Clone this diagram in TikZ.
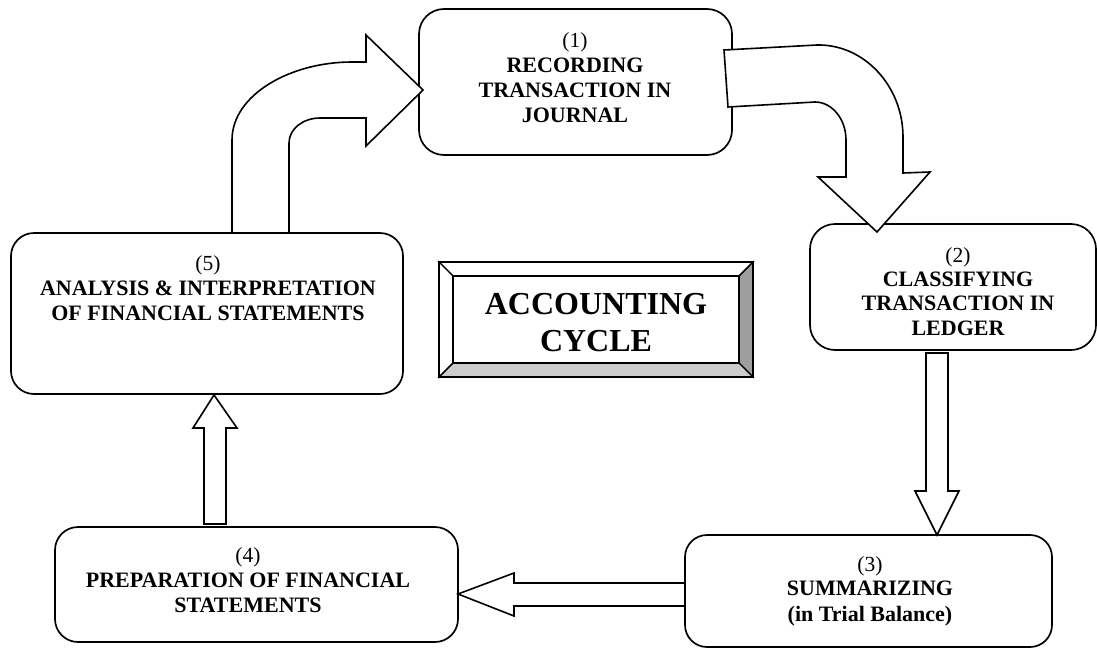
\documentclass[tikz,border=0pt]{standalone}
\usepackage{fontspec}
\setmainfont{Liberation Serif}
\begin{document}
\begin{tikzpicture}[x=1pt,y=-1pt,
  rbox/.style={draw, line width=1.7pt, inner sep=0pt, outer sep=0pt},
  blockarrow/.style={draw, fill=white, line width=1.6pt, line join=miter},
  num/.style={font=\fontsize{21.5}{24}\selectfont, anchor=base, inner sep=0pt},
  lbl/.style={font=\fontsize{22}{24}\selectfont\bfseries, anchor=base, inner sep=0pt},
  big/.style={font=\fontsize{32}{37}\selectfont\bfseries, anchor=base, inner sep=0pt},
  facet/.style={draw, line width=1.4pt, line join=miter}]
\useasboundingbox (0,0) rectangle (1097,648);
\fill[white] (0,0) rectangle (1097,648);

% boxes
\node[rbox, rounded corners=25pt, minimum width=313pt, minimum height=146pt] (b1) at (575.5,82) {};
\node[rbox, rounded corners=25pt, minimum width=286pt, minimum height=126pt] (b2) at (953,287) {};
\node[rbox, rounded corners=22pt, minimum width=367pt, minimum height=112pt] (b3) at (868.5,591) {};
\node[rbox, rounded corners=23pt, minimum width=403pt, minimum height=115pt] (b4) at (256.5,584.5) {};
\node[rbox, rounded corners=23pt, minimum width=392pt, minimum height=161pt] (b5) at (207,313.5) {};

% bevelled title box
\coordinate (otl) at (439,262); \coordinate (otr) at (753,262);
\coordinate (obr) at (753,377); \coordinate (obl) at (439,377);
\coordinate (itl) at (453,276); \coordinate (itr) at (739,276);
\coordinate (ibr) at (739,363); \coordinate (ibl) at (453,363);
\filldraw[facet, fill=white] (otl) -- (otr) -- (itr) -- (itl) -- cycle;
\filldraw[facet, fill=white] (otl) -- (itl) -- (ibl) -- (obl) -- cycle;
\filldraw[facet, fill=black!38] (otr) -- (obr) -- (ibr) -- (itr) -- cycle;
\filldraw[facet, fill=black!20] (obl) -- (ibl) -- (ibr) -- (obr) -- cycle;
\draw[line width=1.6pt] (otl) rectangle (obr);
\draw[line width=1.6pt] (itl) rectangle (ibr);
\node[big] (t0a) at (596,314) {ACCOUNTING};
\node[big] (t0b) at (596,351) {CYCLE};

% bent arrow 5 -> 1
\draw[blockarrow] (232,233) -- (232,140)
  .. controls (232,95) and (290,62) .. (352,62)
  -- (366,62) -- (366,35) -- (423,90) -- (366,146) -- (366,118) -- (320,118)
  .. controls (303,118) and (289,129) .. (289,143)
  -- (289,233) -- cycle;

% bent arrow 1 -> 2
\draw[blockarrow] (724,50) -- (817,45)
  .. controls (864,44) and (903,86) .. (903,137)
  -- (903,173) -- (930,172) -- (877,232) -- (818,177) -- (846,177) -- (846,140)
  .. controls (846,119) and (832,102) .. (815,102)
  -- (728,107) -- cycle;

% straight arrows
\draw[blockarrow] (926,353) -- (926,491) -- (915,491) -- (937,535) -- (959,491) -- (948,491) -- (948,353) -- cycle;
\draw[blockarrow] (685,583) -- (514,583) -- (514,573) -- (458,594) -- (514,616) -- (514,606) -- (685,606) -- cycle;
\draw[blockarrow] (204,524) -- (204,428) -- (193,428) -- (214,395) -- (237,428) -- (226,428) -- (226,524) -- cycle;

% texts
\node[num] (t1n) at (575,47) {(1)};
\node[lbl] (t1a) at (575,72) {RECORDING};
\node[lbl] (t1b) at (575,97) {TRANSACTION IN};
\node[lbl] (t1c) at (575,122) {JOURNAL};

\node[num] (t2n) at (958,262) {(2)};
\node[lbl] (t2a) at (958,286) {CLASSIFYING};
\node[lbl] (t2b) at (958,310) {TRANSACTION IN};
\node[lbl] (t2c) at (958,335) {LEDGER};

\node[num] (t3n) at (870,571) {(3)};
\node[lbl] (t3a) at (870,595) {SUMMARIZING};
\node[lbl] (t3b) at (870,621) {(in Trial Balance)};

\node[num] (t4n) at (248,562) {(4)};
\node[lbl] (t4a) at (248,587) {PREPARATION OF FINANCIAL};
\node[lbl] (t4b) at (248,612) {STATEMENTS};

\node[num] (t5n) at (208,270) {(5)};
\node[lbl] (t5a) at (208,295) {ANALYSIS \& INTERPRETATION};
\node[lbl] (t5b) at (208,320) {OF FINANCIAL STATEMENTS};
\end{tikzpicture}
\end{document}
